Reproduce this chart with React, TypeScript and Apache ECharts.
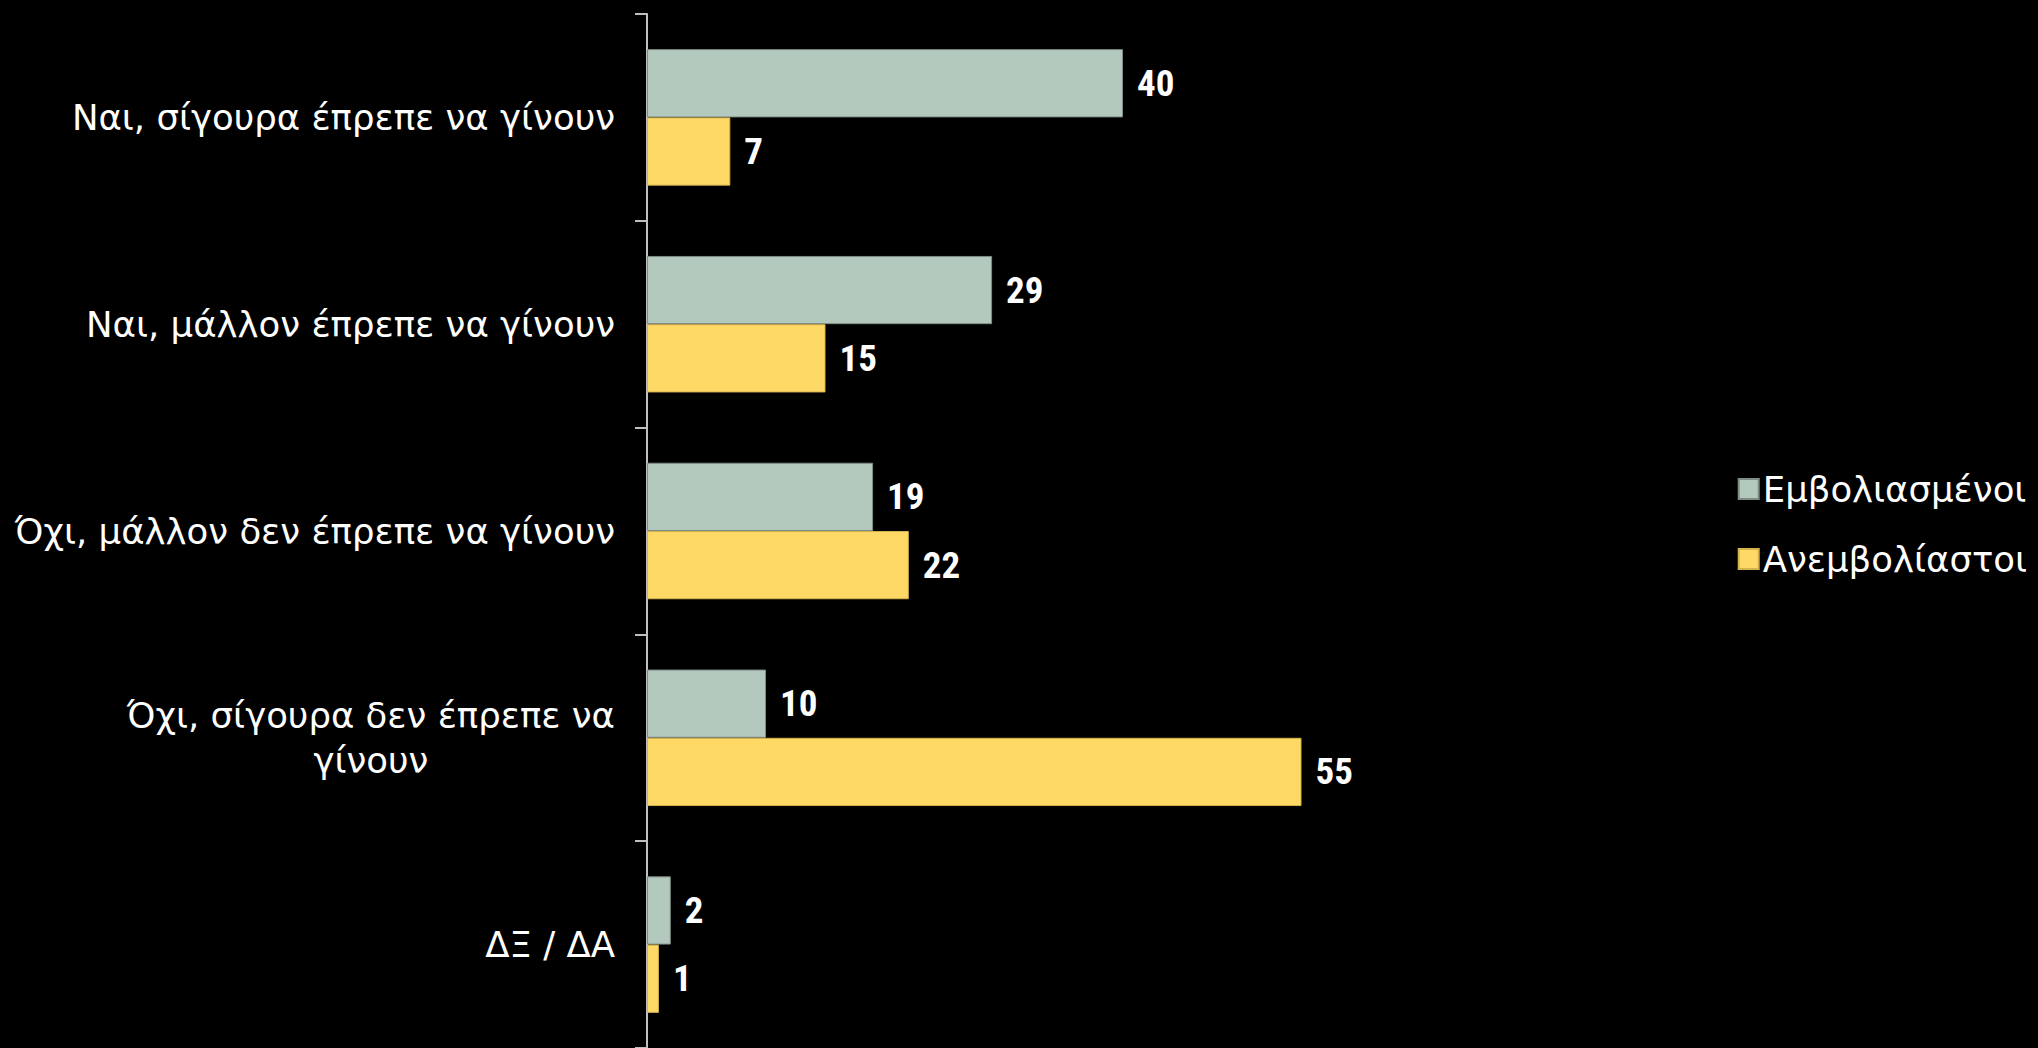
import React, { useEffect, useRef } from "react";
import * as echarts from "echarts";

const categories = [
  "Ναι, σίγουρα έπρεπε να γίνουν",
  "Ναι, μάλλον έπρεπε να γίνουν",
  "Όχι, μάλλον δεν έπρεπε να γίνουν",
  "Όχι, σίγουρα δεν έπρεπε να\nγίνουν",
  "ΔΞ / ΔΑ",
];
const seriesNames = ["Εμβολιασμένοι", "Ανεμβολίαστοι"];
const vaccinated = [40, 29, 19, 10, 2];
const unvaccinated = [7, 15, 22, 55, 1];

const textFont = "'DejaVu Sans', 'Noto Sans', sans-serif";

export default function App() {
  const ref = useRef<HTMLDivElement>(null);
  useEffect(() => {
    if (!ref.current) return;
    const chart = echarts.init(ref.current, undefined, { renderer: "svg" });
    const labelStyle = {
      show: true,
      position: "right" as const,
      distance: 14,
      color: "#ffffff",
      fontWeight: "bold" as const,
      fontSize: 37,
      fontFamily: "'Roboto Condensed', 'Liberation Sans Narrow', 'Open Sans', sans-serif",
    };
    chart.setOption({
      animation: false,
      backgroundColor: "#000000",
      grid: { left: 647, top: 14, bottom: 0, width: 714, containLabel: false },
      legend: {
        orient: "vertical",
        right: 6,
        top: "middle",
        itemWidth: 20,
        itemHeight: 20,
        itemGap: 34,
        icon: "rect",
        textStyle: { color: "#ffffff", fontSize: 35.5, fontFamily: textFont, padding: [0, 0, 0, -1] },
        data: seriesNames,
      },
      xAxis: {
        type: "value",
        min: 0,
        max: 60,
        show: false,
      },
      yAxis: {
        type: "category",
        inverse: true,
        data: categories,
        axisLine: { show: true, lineStyle: { color: "#bfbfbf", width: 2 } },
        axisTick: { show: true, length: 12, lineStyle: { color: "#bfbfbf", width: 2 } },
        axisLabel: {
          margin: 32,
          color: "#ffffff",
          fontSize: 35.5,
          fontFamily: textFont,
          lineHeight: 45,
          formatter: (v: string) =>
            v
              .split("\n")
              .map((s) => `{c|${s}}`)
              .join("\n"),
          rich: {
            c: {
              align: "center",
              color: "#ffffff",
              fontSize: 35.5,
              fontFamily: textFont,
              lineHeight: 45,
            },
          },
        },
        splitLine: { show: false },
      },
      series: [
        {
          name: seriesNames[0],
          type: "bar",
          data: vaccinated,
          barGap: "0%",
          barCategoryGap: "34%",
          itemStyle: { color: "#B4C9BE", borderColor: "#7f8c86", borderWidth: 1 },
          label: labelStyle,
        },
        {
          name: seriesNames[1],
          type: "bar",
          data: unvaccinated,
          barGap: "0%",
          barCategoryGap: "34%",
          itemStyle: { color: "#FFD966", borderColor: "#d4b24e", borderWidth: 1 },
          label: labelStyle,
        },
      ],
    });
    return () => chart.dispose();
  }, []);
  return (
    <div
      ref={ref}
      style={{ position: "fixed", left: 0, top: 0, width: 2038, height: 1048, background: "#000" }}
    />
  );
}
